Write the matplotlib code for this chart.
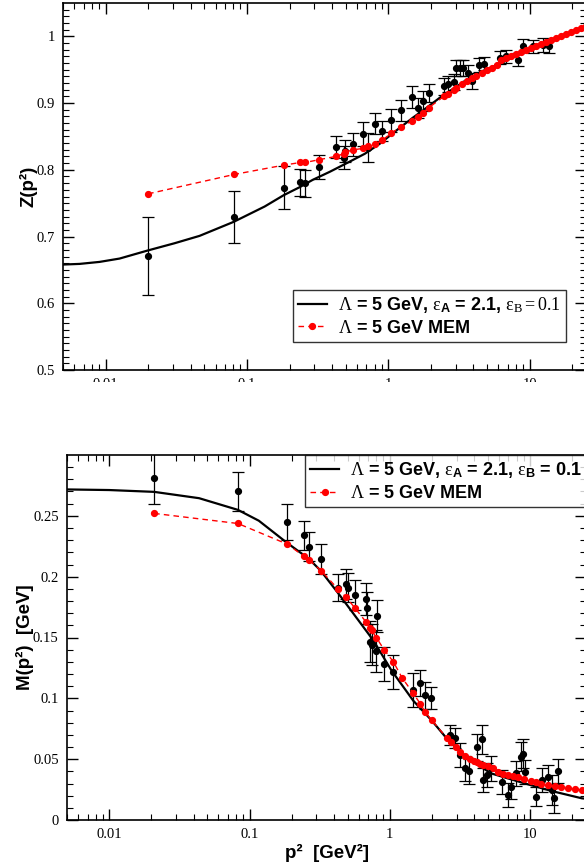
import numpy as np
import matplotlib
matplotlib.use("Agg")
import matplotlib.pyplot as plt
from matplotlib.patches import Rectangle

plt.rcParams['mathtext.fontset'] = 'custom'
plt.rcParams['mathtext.rm'] = 'Liberation Serif'
plt.rcParams['mathtext.it'] = 'Liberation Serif:italic'
plt.rcParams['mathtext.bf'] = 'Liberation Sans:bold'

# ---------------- top panel: Z(p^2) ----------------
z_p2 = [0.020, 0.081, 0.182, 0.239, 0.258, 0.321, 0.423, 0.483, 0.490, 0.562,
        0.662, 0.719, 0.81, 0.902, 1.05, 1.22, 1.46, 1.61, 1.76, 1.93,
        2.47, 2.66, 2.90, 3.03, 3.21, 3.39, 3.63, 3.9, 4.37, 4.74,
        6.14, 6.8, 8.2, 8.98, 10.6, 12.4, 13.7]
z_lat = [0.671, 0.729, 0.773, 0.781, 0.780, 0.804, 0.834, 0.818, 0.828, 0.838,
         0.854, 0.833, 0.869, 0.858, 0.874, 0.889, 0.909, 0.893, 0.903, 0.915,
         0.925, 0.928, 0.931, 0.952, 0.952, 0.953, 0.945, 0.933, 0.957, 0.959,
         0.968, 0.970, 0.965, 0.986, 0.985, 0.987, 0.985]
z_err = [0.058, 0.039, 0.032, 0.020, 0.020, 0.018, 0.017, 0.017, 0.017, 0.017,
         0.018, 0.022, 0.016, 0.015, 0.017, 0.016, 0.016, 0.015, 0.015, 0.013,
         0.013, 0.012, 0.012, 0.012, 0.012, 0.012, 0.012, 0.012, 0.010, 0.010,
         0.010, 0.010, 0.010, 0.010, 0.010, 0.010, 0.010]

z_mem_p2 = [0.020, 0.081, 0.182, 0.239, 0.258, 0.321, 0.423, 0.483, 0.490, 0.562,
            0.662, 0.719, 0.81, 0.902, 1.05, 1.22, 1.46, 1.61, 1.76, 1.93,
            2.47, 2.66, 2.90, 3.03, 3.3, 3.6, 3.9, 4.2, 4.6, 5.0,
            5.4, 5.9, 6.3, 6.8, 7.4, 8.0, 8.7, 9.4, 10.2, 11.1,
            12.0, 13.0, 14.1, 15.3, 16.6, 18.0, 19.5, 21.2, 23.0, 25.0]
z_mem = [0.764, 0.793, 0.807, 0.811, 0.811, 0.815, 0.820, 0.824, 0.826, 0.830,
         0.832, 0.835, 0.839, 0.844, 0.855, 0.864, 0.873, 0.879, 0.885, 0.893,
         0.910, 0.914, 0.920, 0.923, 0.928, 0.933, 0.937, 0.941, 0.945, 0.949,
         0.953, 0.957, 0.964, 0.967, 0.970, 0.973, 0.976, 0.979, 0.982, 0.985,
         0.988, 0.991, 0.994, 0.997, 1.000, 1.003, 1.006, 1.009, 1.012, 1.015]

z_fit_p2 = [0.00497, 0.00655, 0.00907, 0.01256, 0.0198, 0.0308, 0.0462, 0.0805,
            0.1334, 0.182, 0.236, 0.292, 0.385, 0.508, 0.681, 0.869, 1.109,
            1.488, 1.81, 2.31, 2.95, 3.59, 4.66, 6.14, 7.85, 10.5, 15.1, 22.6, 25.0]
z_fit = [0.658, 0.659, 0.662, 0.667, 0.679, 0.690, 0.701, 0.722,
         0.745, 0.762, 0.774, 0.785, 0.797, 0.810, 0.824, 0.839, 0.857,
         0.878, 0.891, 0.908, 0.923, 0.935, 0.948, 0.959, 0.970, 0.983, 0.996, 1.010, 1.013]

# ---------------- bottom panel: M(p^2) ----------------
m_p2 = [0.0209, 0.0826, 0.185, 0.243, 0.267, 0.323, 0.426, 0.489, 0.50, 0.566,
        0.674, 0.69, 0.816, 0.724, 0.74, 0.80, 0.91, 1.06, 1.47, 1.65,
        1.78, 1.96, 2.69, 2.9, 3.17, 3.43, 3.65, 4.2, 4.54, 4.6,
        4.9, 5.3, 6.3, 7.0, 7.3, 7.9, 8.57, 8.9, 9.2, 11.0,
        12.1, 13.3, 14.4, 14.9, 15.9]
m_lat = [0.281, 0.270, 0.245, 0.234, 0.2246, 0.2145, 0.191, 0.194, 0.191, 0.185,
         0.1814, 0.174, 0.1675, 0.1467, 0.144, 0.139, 0.128, 0.1216, 0.1066, 0.1126,
         0.1025, 0.100, 0.0697, 0.0675, 0.0533, 0.0424, 0.040, 0.0596, 0.0664, 0.0328,
         0.0369, 0.0424, 0.0314, 0.0205, 0.0273, 0.0383, 0.0519, 0.0546, 0.0396, 0.0191,
         0.0328, 0.0355, 0.0246, 0.0178, 0.0403]
m_err = [0.021, 0.016, 0.015, 0.012, 0.012, 0.012, 0.011, 0.012, 0.012, 0.012,
         0.013, 0.013, 0.013, 0.017, 0.017, 0.017, 0.014, 0.014, 0.014, 0.011,
         0.011, 0.009, 0.008, 0.008, 0.010, 0.010, 0.010, 0.011, 0.012, 0.010,
         0.010, 0.010, 0.010, 0.010, 0.010, 0.010, 0.012, 0.012, 0.010, 0.008,
         0.010, 0.010, 0.012, 0.012, 0.010]

m_mem_p2 = [0.0209, 0.0826, 0.185, 0.243, 0.267, 0.323, 0.426, 0.489, 0.566, 0.674,
            0.724, 0.74, 0.80, 0.91, 1.06, 1.22, 1.47, 1.65, 1.78, 1.99,
            2.54, 2.73, 2.94, 3.16, 3.43, 3.72, 3.95, 4.15, 4.4, 4.63,
            5.0, 5.39, 5.91, 6.4, 6.97, 7.6, 8.2, 9.1, 10.2, 11.0,
            12.0, 13.4, 15.0, 16.7, 18.6, 20.8, 23.4, 25.0]
m_mem = [0.252, 0.2437, 0.2268, 0.217, 0.2136, 0.205, 0.190, 0.183, 0.174, 0.163,
         0.158, 0.156, 0.150, 0.140, 0.130, 0.117, 0.104, 0.0955, 0.0888, 0.082,
         0.0676, 0.0642, 0.060, 0.0559, 0.0525, 0.050, 0.0488, 0.0478, 0.0463, 0.045,
         0.0440, 0.043, 0.0396, 0.038, 0.0369, 0.0358, 0.035, 0.0335, 0.0322, 0.031,
         0.030, 0.029, 0.0279, 0.0268, 0.026, 0.0253, 0.0246, 0.0243]

m_fit_p2 = [0.00494, 0.01, 0.0209, 0.0437, 0.0826, 0.1164, 0.184, 0.264, 0.321,
            0.431, 0.598, 0.764, 1.026, 1.47, 1.98, 2.49, 3.45, 5.27, 9.2,
            14.6, 23.4, 25.0]
m_fit = [0.2717, 0.2712, 0.2697, 0.2645, 0.2549, 0.246, 0.228, 0.2148, 0.205,
         0.186, 0.164, 0.1475, 0.123, 0.098, 0.082, 0.0683, 0.0519, 0.0383, 0.030,
         0.0235, 0.0178, 0.0175]

fig = plt.figure(figsize=(5.84, 8.64), dpi=100)
ax1 = fig.add_axes([63 / 584, 1 - 370 / 864, 523 / 584, 367 / 864])
ax2 = fig.add_axes([67 / 584, 1 - 820 / 864, 519 / 584, 365 / 864])

lab1 = r'$\mathrm{\Lambda}$ = 5 GeV, $\mathrm{\varepsilon}_{\mathbf{A}}$ = 2.1, $\mathrm{\varepsilon}_{\mathrm{B}} = 0.1$'
lab2 = r'$\mathrm{\Lambda}$ = 5 GeV, $\mathrm{\varepsilon}_{\mathbf{A}}$ = 2.1, $\mathrm{\varepsilon}_{\mathbf{B}}$ = 0.1'
lab_mem = r'$\mathrm{\Lambda}$ = 5 GeV MEM'

panels = [
    (ax1, z_p2, z_lat, z_err, z_mem_p2, z_mem, z_fit_p2, z_fit, lab1),
    (ax2, m_p2, m_lat, m_err, m_mem_p2, m_mem, m_fit_p2, m_fit, lab2),
]

for ax, p2, lat, err, mp2, mem, fp2, fit, lab in panels:
    ax.plot(fp2, fit, color='black', lw=1.6, label=lab, zorder=2)
    ax.errorbar(p2, lat, yerr=err, fmt='o', color='black', ms=4.2,
                elinewidth=0.9, capsize=4, capthick=0.9, zorder=3)
    ax.plot(mp2, mem, 'o--', color='red', ms=4.2, lw=1.0,
            dashes=(4, 3), label=lab_mem, zorder=4)
    ax.set_xscale('log')
    ax.set_xlim(0.005, 25)
    ax.tick_params(which='both', direction='in', top=True, right=True, pad=6)
    ax.tick_params(which='major', length=8, width=1)
    ax.tick_params(which='minor', length=4, width=0.8)
    for s in ax.spines.values():
        s.set_linewidth(1.2)

ax1.set_ylim(0.5, 1.05)
ax1.set_yticks([0.5, 0.6, 0.7, 0.8, 0.9, 1.0])
ax1.set_yticklabels(['0.5', '0.6', '0.7', '0.8', '0.9', '1'])
ax1.set_yticks(np.arange(0.5, 1.05, 0.01), minor=True)
ax2.set_ylim(0, 0.3)
ax2.set_yticks([0, 0.05, 0.1, 0.15, 0.2, 0.25])
ax2.set_yticklabels(['0', '0.05', '0.1', '0.15', '0.2', '0.25'])
ax2.set_yticks(np.arange(0, 0.3, 0.01), minor=True)

for ax in (ax1, ax2):
    ax.set_xticks([0.01, 0.1, 1, 10])
    ax.set_xticklabels(['0.01', '0.1', '1', '10'])
    for lb in ax.get_xticklabels() + ax.get_yticklabels():
        lb.set_family('Liberation Serif')
        lb.set_fontsize(10.5)

lfont = {'family': 'Liberation Sans', 'weight': 'bold', 'size': 13}
ax1.set_ylabel('Z(p²)', fontdict=lfont, fontsize=13.5, labelpad=-1)
ax2.set_ylabel('M(p²)  [GeV]', fontdict=lfont, fontsize=13.5, labelpad=-1)
ax2.set_xlabel('p²  [GeV²]', fontdict=lfont, fontsize=13.5, labelpad=2)

leg1 = ax1.legend(loc='lower right', bbox_to_anchor=(566 / 584, 1 - 342 / 864),
                  bbox_transform=fig.transFigure, prop=lfont, frameon=True,
                  fancybox=False, edgecolor='black', borderpad=0.3,
                  handlelength=1.6, handletextpad=0.6, labelspacing=0.25,
                  borderaxespad=0)
leg1.get_frame().set_linewidth(1.0)
leg2 = ax2.legend(loc='upper left', bbox_to_anchor=(305 / 584, 1 - 455 / 864),
                  bbox_transform=fig.transFigure, prop=lfont, frameon=True,
                  fancybox=False, edgecolor='black', borderpad=0.3,
                  handlelength=1.6, handletextpad=0.6, labelspacing=0.25,
                  borderaxespad=0)
leg2.get_frame().set_linewidth(1.0)

# the lower part of the top panel's tick labels is hidden in the original
fig.patches.append(Rectangle((0, 1 - 440 / 864), 1, (440 - 382) / 864,
                             transform=fig.transFigure, facecolor='white',
                             edgecolor='none', zorder=10))

fig.savefig('out.png', dpi=100)
